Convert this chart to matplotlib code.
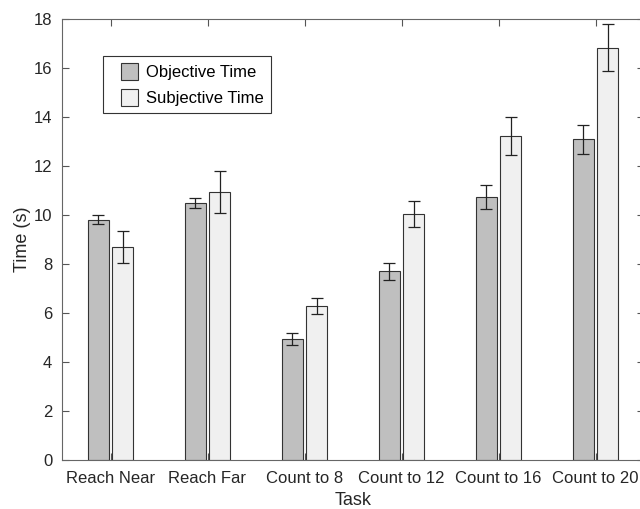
import numpy as np
import matplotlib
matplotlib.use('Agg')
import matplotlib.pyplot as plt
import matplotlib.patches as mpatches
from matplotlib.container import BarContainer
from matplotlib.legend_handler import HandlerPatch, update_from_first_child

plt.rcParams['font.family'] = ['Liberation Sans', 'DejaVu Sans']

tasks = ['Reach Near', 'Reach Far', 'Count to 8', 'Count to 12', 'Count to 16', 'Count to 20']
objective = [9.80, 10.50, 4.95, 7.71, 10.73, 13.09]
objective_err = [0.18, 0.21, 0.25, 0.35, 0.50, 0.60]
subjective = [8.71, 10.94, 6.28, 10.05, 13.22, 16.82]
subjective_err = [0.65, 0.86, 0.33, 0.52, 0.78, 0.96]

x = np.arange(1, len(tasks) + 1)
offset = 0.125
width = 0.21


def right_square(legend, orig_handle, xdescent, ydescent, width, height, fontsize):
    # square patch pushed to the right end of the handle box (MATLAB-ish legend)
    return mpatches.Rectangle((width - height - xdescent, -ydescent), height, height)


fig = plt.figure(figsize=(6.4, 5.09), dpi=100)
ax = fig.add_axes([62 / 640, 49 / 509, 582 / 640, 441 / 509])

err_style = dict(ecolor='#222222', elinewidth=0.9, capsize=4.3, capthick=0.9)
ax.bar(x - offset, objective, width, yerr=objective_err, color='#bfbfbf',
       edgecolor='#333333', linewidth=0.8, error_kw=err_style, label='Objective Time')
ax.bar(x + offset, subjective, width, yerr=subjective_err, color='#f0f0f0',
       edgecolor='#333333', linewidth=0.8, error_kw=err_style, label='Subjective Time')

ax.set_xlim(0.5, 6.5)
ax.set_ylim(0, 18)
ax.set_yticks(np.arange(0, 19, 2))
ax.set_xticks(x)
ax.set_xticklabels(tasks)
ax.tick_params(direction='in', length=5, width=0.8, color='#555555',
               labelsize=12, labelcolor='#262626', top=True, right=True)
ax.tick_params(axis='x', pad=8)
ax.tick_params(axis='y', pad=7)
for s in ax.spines.values():
    s.set_color('#666666')
    s.set_linewidth(0.8)

ax.set_xlabel('Task', fontsize=13, color='#262626', labelpad=4)
ax.set_ylabel('Time (s)', fontsize=13, color='#262626', labelpad=2)

bar_handler = HandlerPatch(patch_func=right_square, update_func=update_from_first_child)
leg = ax.legend(loc='upper left', bbox_to_anchor=(0.07, 0.917), borderaxespad=0,
                fontsize=12, fancybox=False, edgecolor='#333333', framealpha=1,
                handlelength=1.66, handleheight=1.2, borderpad=0.45, labelspacing=0.5,
                handletextpad=0.5, handler_map={BarContainer: bar_handler})
leg.get_frame().set_linewidth(0.8)

fig.savefig('out.png', dpi=100)
